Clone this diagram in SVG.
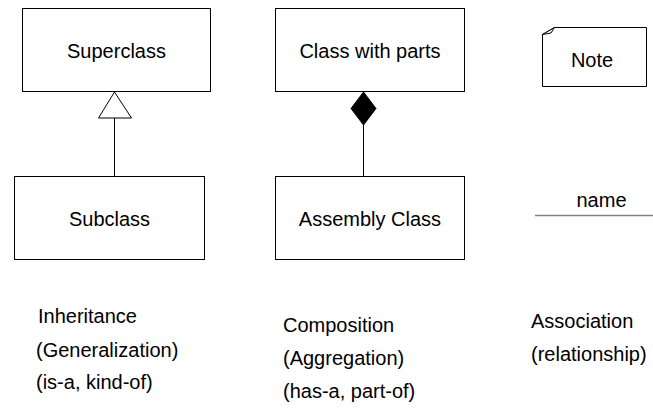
<svg xmlns="http://www.w3.org/2000/svg" width="653" height="412" viewBox="0 0 653 412">
<style>
  .box { fill: #ffffff; stroke: #000000; stroke-width: 1; }
  .lbl { font-family: "Liberation Sans", Arial, sans-serif; font-size: 20px; fill: #000000; }
  .mid { text-anchor: middle; }
  .conn { stroke: #000000; stroke-width: 1; fill: none; }
</style>
<rect width="653" height="412" fill="#ffffff"/>

<g id="superclass">
  <rect class="box" x="22.5" y="8.5" width="188" height="83"/>
  <text class="lbl mid" x="116.5" y="58">Superclass</text>
</g>
<g id="subclass">
  <rect class="box" x="14.5" y="176.5" width="190" height="83"/>
  <text class="lbl mid" x="109.5" y="226">Subclass</text>
</g>
<g id="class-with-parts">
  <rect class="box" x="275.5" y="8.5" width="189" height="83"/>
  <text class="lbl mid" x="370" y="58">Class with parts</text>
</g>
<g id="assembly-class">
  <rect class="box" x="275.5" y="176.5" width="189" height="83"/>
  <text class="lbl mid" x="370" y="226">Assembly Class</text>
</g>
<g id="note">
  <path class="box" d="M542.5,34.5 L554.5,27.5 L646.5,27.5 L646.5,86.5 L542.5,86.5 Z"/>
  <path class="box" d="M542.5,34.5 L554.5,27.5 L551,33 Z"/>
  <text class="lbl mid" x="592" y="67">Note</text>
</g>
<g id="association">
  <line x1="535" y1="215.5" x2="653" y2="215.5" stroke="#808080" stroke-width="1.5"/>
  <text class="lbl mid" x="601.5" y="207">name</text>
</g>

<g id="connectors">
  <line class="conn" x1="114.5" y1="118" x2="114.5" y2="176.5"/>
  <path class="conn" d="M114.5,92 L131.5,118 L98.5,118 Z" fill="#ffffff"/>
  <line class="conn" x1="363.5" y1="125" x2="363.5" y2="176.5"/>
  <path d="M363.5,92 L376,108.5 L363.5,125 L351,108.5 Z" fill="#000000" stroke="#000000" stroke-width="1"/>
</g>

<g id="captions">
  <text class="lbl" x="38" y="323">Inheritance</text>
  <text class="lbl" x="36" y="356.5">(Generalization)</text>
  <text class="lbl" x="36" y="389">(is-a, kind-of)</text>
  <text class="lbl" x="283" y="331.5">Composition</text>
  <text class="lbl" x="283" y="364.5">(Aggregation)</text>
  <text class="lbl" x="283" y="397.5">(has-a, part-of)</text>
  <text class="lbl" x="531" y="328">Association</text>
  <text class="lbl" x="531" y="361">(relationship)</text>
</g>
</svg>
